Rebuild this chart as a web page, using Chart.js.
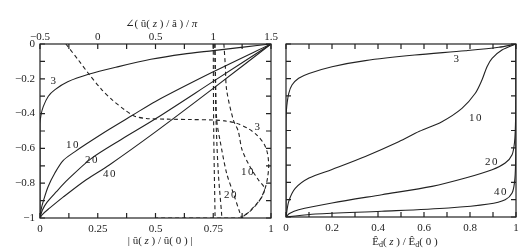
<!DOCTYPE html>
<html>
<head>
<meta charset="utf-8">
<script src="https://cdn.jsdelivr.net/npm/chart.js@4.4.1/dist/chart.umd.min.js"></script>
<style>
  html, body { margin: 0; padding: 0; background: #fff; }
  #wrap { position: relative; width: 524px; height: 252px; }
  canvas { position: absolute; top: 0; }
  #left { left: 0; }
  #right { left: 276px; }
</style>
</head>
<body>
<div id="wrap">
  <canvas id="left" width="280" height="252"></canvas>
  <canvas id="right" width="248" height="252"></canvas>
</div>
<script>
const FONT = '"Liberation Serif", "DejaVu Serif", serif';
const INK = '#222';

// left panel, solid: |u(z)/u(0)| against z, one list per N
const mag3 = [[0, -1], [0, -0.7], [0, -0.46], [0.004, -0.41], [0.014, -0.36], [0.036, -0.3],
  [0.065, -0.262], [0.12, -0.217], [0.21, -0.174], [0.34, -0.13], [0.48, -0.088],
  [0.62, -0.058], [0.75, -0.038], [0.88, -0.018], [1, 0]];
const mag10 = [[0, -1], [0.005, -0.95], [0.015, -0.9], [0.035, -0.82], [0.065, -0.74],
  [0.1, -0.67], [0.15, -0.62], [0.2, -0.575], [0.3, -0.49], [0.4, -0.41], [0.5, -0.33],
  [0.75, -0.16], [1, 0]];
const mag20 = [[0, -1], [0.01, -0.955], [0.03, -0.91], [0.07, -0.85], [0.12, -0.78],
  [0.22, -0.66], [0.35, -0.55], [0.5, -0.43], [0.75, -0.215], [1, 0]];
const mag40 = [[0, -1], [0.01, -0.98], [0.04, -0.945], [0.1, -0.88], [0.2, -0.78],
  [0.3, -0.695], [0.5, -0.505], [0.75, -0.255], [1, 0]];

// left panel, dashed: phase / pi against z (top axis)
const phase3 = [[-0.276, 0], [-0.168, -0.092], [-0.082, -0.168], [0.034, -0.262], [0.12, -0.318],
  [0.236, -0.38], [0.32, -0.415], [0.42, -0.428], [0.6, -0.432], [0.8, -0.434], [1.0, -0.437],
  [1.1, -0.442], [1.2, -0.455], [1.3, -0.485], [1.38, -0.525], [1.44, -0.575], [1.47, -0.63],
  [1.48, -0.7], [1.47, -0.77], [1.444, -0.84], [1.4, -0.9], [1.33, -0.955], [1.25, -0.995]];
const phase3Floor = [[1.25, -1], [0.5, -1]];
const phase10 = [[1.092, 0], [1.104, -0.12], [1.116, -0.264], [1.174, -0.437], [1.216, -0.5],
  [1.25, -0.609], [1.318, -0.705], [1.39, -0.78], [1.444, -0.83], [1.42, -0.88], [1.36, -0.93],
  [1.3, -0.97], [1.246, -1]];
const phase20 = [[1.014, 0], [1.02, -0.2], [1.03, -0.437], [1.058, -0.552], [1.116, -0.743],
  [1.174, -0.858], [1.232, -0.973], [1.246, -1]];
const phase40 = [[1.014, 0], [1.018, -0.2], [1.024, -0.437], [1.044, -0.743], [1.072, -0.973], [1.074, -1]];
const phaseStraight = [[1.0, 0], [1.004, -0.5], [1.016, -1]];

// right panel: E_d(z)/E_d(0) against z
const field3 = [[0, -1], [0, -0.45], [0.002, -0.38], [0.005, -0.34], [0.012, -0.285],
  [0.026, -0.237], [0.055, -0.198], [0.1, -0.17], [0.2, -0.131], [0.345, -0.096],
  [0.56, -0.064], [0.78, -0.039], [0.925, -0.019], [1, 0]];
const field10 = [[0, -1], [0.012, -0.91], [0.04, -0.835], [0.1, -0.775], [0.2, -0.725],
  [0.345, -0.65], [0.49, -0.565], [0.58, -0.505], [0.678, -0.449], [0.765, -0.372],
  [0.823, -0.285], [0.852, -0.208], [0.874, -0.131], [0.896, -0.083], [0.939, -0.035], [1, 0]];
const field20 = [[0, -1], [0.015, -0.98], [0.055, -0.958], [0.2, -0.919], [0.417, -0.871],
  [0.635, -0.823], [0.78, -0.775], [0.896, -0.727], [0.953, -0.688], [0.983, -0.64],
  [0.994, -0.563], [0.998, -0.45], [1, -0.3], [1, 0]];
const field40 = [[0, -1], [0.128, -0.983], [0.417, -0.967], [0.707, -0.948], [0.881, -0.925],
  [0.953, -0.9], [0.983, -0.861], [0.994, -0.794], [0.998, -0.7], [1, -0.5], [1, 0]];

// inward tick marks
const magTicks = [0, 0.125, 0.25, 0.375, 0.5, 0.625, 0.75, 0.875, 1];
const phaseTicks = [-0.5, -0.25, 0, 0.25, 0.5, 0.75, 1, 1.25, 1.5];
const zTicks = [0, -0.1, -0.2, -0.3, -0.4, -0.5, -0.6, -0.7, -0.8, -0.9, -1];
const fieldTicks = [0, 0.1, 0.2, 0.3, 0.4, 0.5, 0.6, 0.7, 0.8, 0.9, 1];

// curve labels: [x, z, text]
const magLabels = [[0.061, -0.213, '3'], [0.143, -0.58, '10'], [0.225, -0.667, '20'], [0.303, -0.747, '40']];
const phaseLabels = [[1.388, -0.477, '3'], [1.3, -0.736, '10'], [1.154, -0.868, '20']];
const fieldLabels = [[0.743, -0.087, '3'], [0.826, -0.428, '10'], [0.896, -0.682, '20'], [0.935, -0.855, '40']];

function fmt(v) {
  const r = Math.round(v * 1000) / 1000;
  return r < 0 ? '\u2212' + String(-r) : String(r);
}

function curve(points, dashed, axis, tension) {
  return {
    data: points.map(([x, y]) => ({ x, y })),
    xAxisID: axis || 'x',
    yAxisID: 'y',
    borderColor: INK,
    borderWidth: 1.1,
    borderDash: dashed ? [4, 3] : [],
    pointRadius: 0,
    tension: tension === undefined ? 0.3 : tension,
    fill: false,
  };
}

function axisTicks(step, padding) {
  return {
    stepSize: step, padding, color: INK, autoSkip: false, maxRotation: 0,
    font: { family: FONT, size: 11 }, callback: fmt,
  };
}

function fixSize(prop, size) {
  return (s) => { s[prop] = size; s.paddingLeft = 0; s.paddingRight = 0; };
}

const noGrid = { display: false, drawTicks: false };

// frame, inward ticks, curve labels and axis titles
const decorPlugin = {
  id: 'decor',
  afterDatasetsDraw(chart, args, opts) {
    const { ctx, chartArea: a, scales } = chart;
    const L = 5;
    ctx.save();
    ctx.strokeStyle = INK;
    ctx.lineWidth = 1.2;
    ctx.strokeRect(a.left, a.top, a.right - a.left, a.bottom - a.top);
    ctx.beginPath();
    opts.bottom[1].forEach((v) => {
      const x = scales[opts.bottom[0]].getPixelForValue(v);
      ctx.moveTo(x, a.bottom); ctx.lineTo(x, a.bottom - L);
    });
    opts.top[1].forEach((v) => {
      const x = scales[opts.top[0]].getPixelForValue(v);
      ctx.moveTo(x, a.top); ctx.lineTo(x, a.top + L);
    });
    zTicks.forEach((v) => {
      const y = scales.y.getPixelForValue(v);
      ctx.moveTo(a.left, y); ctx.lineTo(a.left + L, y);
      ctx.moveTo(a.right, y); ctx.lineTo(a.right - L, y);
    });
    ctx.stroke();

    ctx.fillStyle = INK;
    ctx.font = '11px ' + FONT;
    ctx.textAlign = 'center';
    ctx.textBaseline = 'middle';
    ctx.letterSpacing = '1.5px';
    opts.labels.forEach(([axis, list]) => {
      list.forEach(([x, z, t]) => {
        ctx.fillText(t, scales[axis].getPixelForValue(x), scales.y.getPixelForValue(z));
      });
    });
    ctx.letterSpacing = '0px';

    opts.titles.forEach(({ x, y, parts }) => {
      const fontOf = (p) => (p.it ? 'italic ' : '') + (p.sub ? '8px ' : '11px ') + FONT;
      let w = 0;
      parts.forEach((p) => { ctx.font = fontOf(p); w += ctx.measureText(p.t).width; });
      let cx = scales.x.getPixelForValue(x) - w / 2;
      ctx.textAlign = 'left';
      parts.forEach((p) => {
        ctx.font = fontOf(p);
        ctx.fillText(p.t, cx, y + (p.sub ? 3 : 0));
        cx += ctx.measureText(p.t).width;
      });
    });
    ctx.restore();
  },
};

new Chart(document.getElementById('left'), {
  type: 'line',
  data: {
    datasets: [
      curve(mag3), curve(mag10), curve(mag20), curve(mag40),
      curve(phase3, true, 'x2'), curve(phase3Floor, true, 'x2', 0),
      curve(phase10, true, 'x2'), curve(phase20, true, 'x2'),
      curve(phase40, true, 'x2'), curve(phaseStraight, true, 'x2'),
    ],
  },
  options: {
    responsive: false,
    animation: false,
    devicePixelRatio: 1,
    layout: { padding: { right: 9 } },
    plugins: {
      legend: { display: false },
      tooltip: { enabled: false },
      decor: {
        bottom: ['x', magTicks],
        top: ['x2', phaseTicks],
        labels: [['x', magLabels], ['x2', phaseLabels]],
        titles: [
          { x: 0.52, y: 241, parts: [{ t: '| û( ' }, { t: 'z', it: true }, { t: ' ) / û( 0 ) |' }] },
          { x: 0.525, y: 24, parts: [{ t: '\u2220( û( ' }, { t: 'z', it: true }, { t: ' ) / â ) / ' }, { t: 'π', it: true }] },
        ],
      },
    },
    scales: {
      x: {
        type: 'linear', position: 'bottom', min: 0, max: 1,
        grid: noGrid, border: { display: false },
        ticks: axisTicks(0.25, 5), afterFit: fixSize('height', 34),
      },
      x2: {
        type: 'linear', position: 'top', min: -0.5, max: 1.5,
        grid: noGrid, border: { display: false },
        ticks: axisTicks(0.5, 0), afterFit: fixSize('height', 44),
      },
      y: {
        type: 'linear', position: 'left', min: -1, max: 0,
        grid: noGrid, border: { display: false },
        ticks: axisTicks(0.2, 5), afterFit: fixSize('width', 40),
      },
    },
  },
  plugins: [decorPlugin],
});

new Chart(document.getElementById('right'), {
  type: 'line',
  data: {
    datasets: [curve(field3), curve(field10), curve(field20), curve(field40)],
  },
  options: {
    responsive: false,
    animation: false,
    devicePixelRatio: 1,
    layout: { padding: { left: 10, right: 8, top: 44 } },
    plugins: {
      legend: { display: false },
      tooltip: { enabled: false },
      decor: {
        bottom: ['x', fieldTicks],
        top: ['x', fieldTicks],
        labels: [['x', fieldLabels]],
        titles: [
          { x: 0.517, y: 242, parts: [{ t: 'Ê' }, { t: 'd', sub: true }, { t: '( ' }, { t: 'z', it: true },
            { t: ' ) / Ê' }, { t: 'd', sub: true }, { t: '( 0 )' }] },
        ],
      },
    },
    scales: {
      x: {
        type: 'linear', position: 'bottom', min: 0, max: 1,
        grid: noGrid, border: { display: false },
        ticks: axisTicks(0.2, 5), afterFit: fixSize('height', 35),
      },
      y: { type: 'linear', display: false, min: -1, max: 0 },
    },
  },
  plugins: [decorPlugin],
});
</script>
</body>
</html>
